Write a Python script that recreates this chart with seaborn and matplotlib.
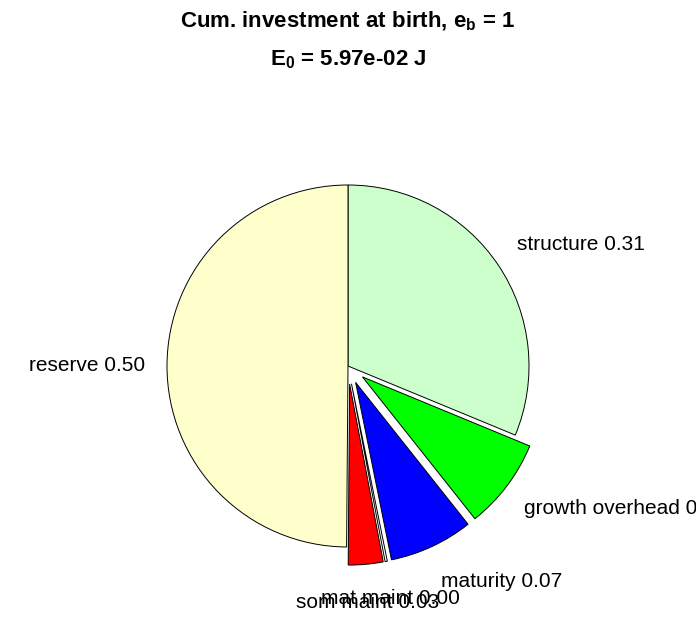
import numpy as np
import matplotlib
matplotlib.use("Agg")
import matplotlib.pyplot as plt
import seaborn as sns

sns.set_theme(style="white")
plt.rcParams['font.family'] = ['Liberation Sans', 'DejaVu Sans']
plt.rcParams['mathtext.fontset'] = 'custom'
plt.rcParams['mathtext.rm'] = 'Liberation Sans'
plt.rcParams['mathtext.bf'] = 'Liberation Sans:bold'
plt.rcParams['text.color'] = 'black'

# data (clockwise from top)
categories = ["structure", "growth overhead", "maturity", "mat maint", "som maint", "reserve"]
fractions = [0.3125, 0.081, 0.075, 0.002, 0.031, 0.499]
label_values = ["0.31", "0.08", "0.07", "0.00", "0.03", "0.50"]
colors = ["#CCFFCC", "#00FF00", "#0000FF", "#FFFFFF", "#FF0000", "#FFFFCC"]
exploded = [0, 1, 1, 1, 1, 0]

W, H = 696, 618
fig = plt.figure(figsize=(W / 100, H / 100), dpi=100)
fig.patch.set_facecolor("white")

R = 181.0
cx, cy = 348.0, H - 366.0
half = 230.0
ax = fig.add_axes([(cx - half) / W, (cy - half) / H, 2 * half / W, 2 * half / H])

wedges, _ = ax.pie(fractions, colors=colors, startangle=90, counterclock=False,
                   explode=[0.1 * e for e in exploded], radius=1.0,
                   wedgeprops=dict(edgecolor="black", linewidth=0.7),
                   normalize=True)
lim = half / R
ax.set_xlim(-lim, lim)
ax.set_ylim(-lim, lim)
ax.set_aspect("equal")
ax.axis("off")

for w, cat, val in zip(wedges, categories, label_values):
    mid = np.deg2rad((w.theta1 + w.theta2) / 2)
    ccx, ccy = w.center
    c, s = np.cos(mid), np.sin(mid)
    x = ccx + 1.12 * c
    y = ccy + 1.21 * s
    if c > 0.3:
        ha = "left"
    elif c < -0.3:
        ha = "right"
    else:
        ha = "center"
    ax.text(x, y, f"{cat} {val}", ha=ha, va="center", fontsize=15,
            color="black", clip_on=False)

fig.text(0.5, 1 - 21 / H, r"Cum. investment at birth, e$_\mathbf{b}$ = 1",
         ha="center", va="center", fontsize=16, fontweight="bold", color="black")
fig.text(0.5, 1 - 60 / H, r"E$_\mathbf{0}$ = 5.97e-02 J",
         ha="center", va="center", fontsize=16, fontweight="bold", color="black")

fig.savefig("out.png", dpi=100, facecolor="white")
